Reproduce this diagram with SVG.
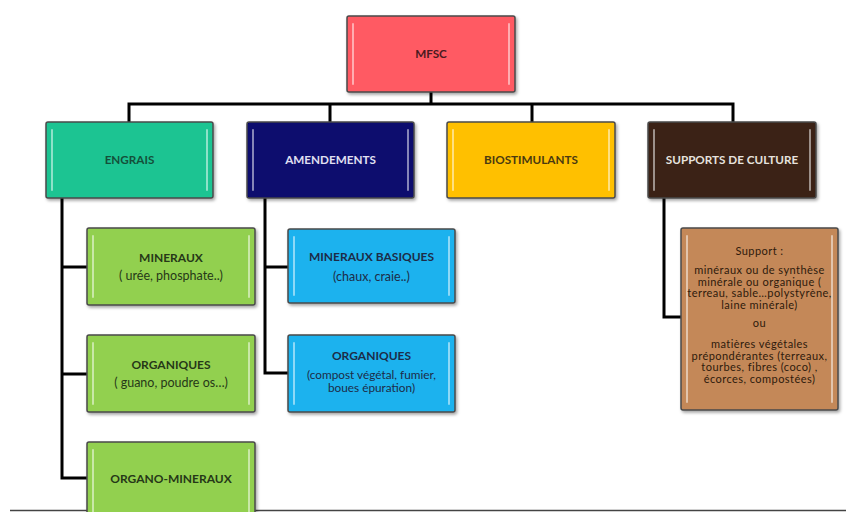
<svg xmlns="http://www.w3.org/2000/svg" width="856" height="512" viewBox="0 0 856 512">
<defs>
<filter id="sh" x="-10%" y="-10%" width="130%" height="130%">
<feDropShadow dx="1.5" dy="2" stdDeviation="1.5" flood-color="#000" flood-opacity="0.35"/>
</filter>
</defs>
<style>
.box{stroke:#4a4a4a;stroke-width:1.5;filter:url(#sh)}
.hl{fill:none;stroke:#fff;stroke-opacity:0.5;stroke-width:2;stroke-linecap:round}
.t{font-family:Lato,"Open Sans","Liberation Sans",sans-serif;text-anchor:middle}
.h{font-weight:bold;font-size:11.7px}
.b{font-weight:bold;font-size:12px}
.s{font-size:12.5px}
.s2{font-size:11.8px}
.sp{font-size:11px;letter-spacing:0.45px}
.c{fill:none;stroke:#000;stroke-width:3}
</style>
<rect width="856" height="512" fill="#fff"/>
<line x1="10" y1="510.5" x2="846" y2="510.5" stroke="#444" stroke-width="1.5"/>
<g id="connectors">
<path class="c" d="M431 92V104M129 122V104H733V122M330 104V122M532 104V122"/>
<path class="c" d="M62 198V478H87M62 267H87M62 374H87"/>
<path class="c" d="M265 198V373H288M265 267H288"/>
<path class="c" d="M664 198V317H681"/>
</g>
<g id="mfsc">
<rect class="box" x="347" y="16" width="168" height="76" rx="2" fill="#ff5a64"/>
<path class="hl" d="M353 24V84M509 24V84"/>
<text class="t h" x="431" y="58" font-size="12px" fill="#4a1a20">MFSC</text>
</g>
<g id="engrais">
<rect class="box" x="46" y="122" width="167" height="76" rx="2" fill="#1fc492"/>
<path class="hl" d="M52 130V190M207 130V190"/>
<text class="t h" x="129.5" y="164" fill="#14503a">ENGRAIS</text>
</g>
<g id="amendements">
<rect class="box" x="247" y="122" width="167" height="76" rx="2" fill="#07076e"/>
<path class="hl" d="M253 130V190M408 130V190" stroke="#8a8aff"/>
<text class="t h" x="330.5" y="164" fill="#e0e0f2">AMENDEMENTS</text>
</g>
<g id="biostimulants">
<rect class="box" x="447" y="122" width="168" height="76" rx="2" fill="#ffc000"/>
<path class="hl" d="M453 130V190M609 130V190"/>
<text class="t h" x="531" y="164" fill="#4a3a10">BIOSTIMULANTS</text>
</g>
<g id="supports">
<rect class="box" x="648" y="122" width="168" height="76" rx="2" fill="#3a2418"/>
<path class="hl" d="M654 130V190M810 130V190"/>
<text class="t h" x="732" y="164" fill="#e6e2de">SUPPORTS DE CULTURE</text>
</g>
<g id="eng-mineraux">
<rect class="box" x="87" y="228" width="168" height="77" rx="2" fill="#92d050"/>
<path class="hl" d="M93 236V297M249 236V297"/>
<text class="t b" x="171" y="262" fill="#263818">MINERAUX</text>
<text class="t s" x="171" y="280" fill="#263818">( urée, phosphate..)</text>
</g>
<g id="eng-organiques">
<rect class="box" x="87" y="335" width="168" height="77" rx="2" fill="#92d050"/>
<path class="hl" d="M93 343V404M249 343V404"/>
<text class="t b" x="171" y="369" fill="#263818">ORGANIQUES</text>
<text class="t s" x="171" y="387" fill="#263818">( guano, poudre os…)</text>
</g>
<g id="eng-organo">
<rect class="box" x="87" y="442" width="168" height="80" rx="2" fill="#92d050"/>
<path class="hl" d="M93 450V512M249 450V512"/>
<text class="t b" x="171" y="483" fill="#263818">ORGANO-MINERAUX</text>
</g>
<g id="am-mineraux">
<rect class="box" x="288" y="229" width="167" height="74" rx="2" fill="#1fb2ee"/>
<path class="hl" d="M294 237V295M449 237V295"/>
<text class="t b" x="371.5" y="261" fill="#1c2c48">MINERAUX BASIQUES</text>
<text class="t s" x="371.5" y="281" fill="#1c2c48">(chaux, craie..)</text>
</g>
<g id="am-organiques">
<rect class="box" x="288" y="335" width="167" height="77" rx="2" fill="#1fb2ee"/>
<path class="hl" d="M294 343V404M449 343V404"/>
<text class="t b" x="371.5" y="360" fill="#1c2c48">ORGANIQUES</text>
<text class="t s2" x="371.5" y="378.5" fill="#1c2c48">(compost végétal, fumier,</text>
<text class="t s2" x="371.5" y="392" fill="#1c2c48">boues épuration)</text>
</g>
<g id="support-detail">
<rect class="box" x="681" y="228" width="157" height="182" rx="2" fill="#c48858"/>
<path class="hl" d="M687 236V402M832 236V402"/>
<g class="t sp" fill="#2e1a0c">
<text x="759.5" y="255">Support :</text>
<text x="759.5" y="274">minéraux ou de synthèse</text>
<text x="759.5" y="285.5">minérale ou organique (</text>
<text x="759.5" y="297">terreau, sable…polystyrène,</text>
<text x="759.5" y="308.5">laine minérale)</text>
<text x="759.5" y="327">ou</text>
<text x="759.5" y="348">matières végétales</text>
<text x="759.5" y="359.5">prépondérantes (terreaux,</text>
<text x="759.5" y="371">tourbes, fibres (coco) ,</text>
<text x="759.5" y="382.5">écorces, compostées)</text>
</g>
</g>
</svg>
